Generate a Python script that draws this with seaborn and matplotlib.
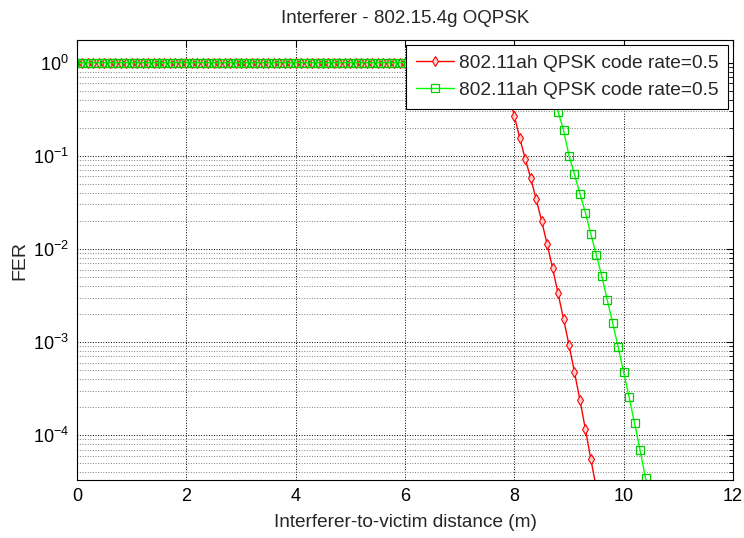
import numpy as np
import pandas as pd
import matplotlib
matplotlib.use("Agg")
import matplotlib.pyplot as plt
import seaborn as sns
from matplotlib.ticker import LogLocator, NullFormatter

# ---- data ----
title = "Interferer - 802.15.4g OQPSK"
xlabel = "Interferer-to-victim distance (m)"
ylabel = "FER"
label_red = "802.11ah QPSK code rate=0.5"
label_green = "802.11ah QPSK code rate=0.5"

# red series (diamonds): x = 0.0 ... 9.5 step 0.1
red_x = [round(0.1 * i, 1) for i in range(96)]
red_y = ([1.0] * 77 +
         [0.9, 0.7, 0.45,
          0.267, 0.154, 0.0923, 0.0573, 0.034, 0.020, 0.0112, 0.0062,
          0.00333, 0.00177, 9.3e-4, 4.76e-4, 2.38e-4, 1.16e-4, 5.5e-5, 2.7e-5])

# green series (squares): x = 0.0 ... 10.5 step 0.1
green_x = [round(0.1 * i, 1) for i in range(106)]
green_y = ([1.0] * 84 +
            [0.98, 0.92, 0.75, 0.5,
             0.298, 0.189, 0.100, 0.0632, 0.0389, 0.0245, 0.0144, 0.0086, 0.0051,
             0.00283, 0.00159, 8.8e-4, 4.72e-4, 2.55e-4, 1.34e-4, 6.9e-5, 3.46e-5, 1.8e-5])

xlim = (0, 12)
ylim = (3.3e-5, 1.75)
xticks = [0, 2, 4, 6, 8, 10, 12]

df = pd.concat([
    pd.DataFrame({"x": red_x, "y": red_y, "series": "red"}),
    pd.DataFrame({"x": green_x, "y": green_y, "series": "green"}),
], ignore_index=True)

sns.set_style("white")
plt.rcParams["font.family"] = ["Liberation Sans", "DejaVu Sans"]
plt.rcParams["mathtext.default"] = "regular"

fig = plt.figure(figsize=(7.44, 5.38), dpi=100)
ax = fig.add_axes([77 / 744, 1 - 480 / 538, (733 - 77) / 744, (480 - 40) / 538])

sns.lineplot(data=df[df.series == "red"], x="x", y="y", ax=ax, color="#ff0000",
             marker="d", markersize=5.5, markerfacecolor="#ffd0d0", markeredgecolor="#ff0000",
             markeredgewidth=0.8, linewidth=1.0, label=label_red, errorbar=None)
sns.lineplot(data=df[df.series == "green"], x="x", y="y", ax=ax, color="#00ff00",
             marker="s", markersize=6, markerfacecolor="none", markeredgecolor="#00cc00",
             markeredgewidth=0.9, linewidth=1.0, label=label_green, errorbar=None)

ax.set_yscale("log")
ax.set_xlim(*xlim)
ax.set_ylim(*ylim)
ax.set_xticks(xticks)
ax.yaxis.set_major_locator(LogLocator(base=10, numticks=20))
ax.yaxis.set_minor_locator(LogLocator(base=10, subs=np.arange(2, 10), numticks=20))
ax.yaxis.set_minor_formatter(NullFormatter())

ax.grid(True, which="major", linestyle=":", color="black", linewidth=0.7)
ax.grid(True, which="minor", axis="y", linestyle=":", color="#808080", linewidth=0.7)

for s in ax.spines.values():
    s.set_color("black")
    s.set_linewidth(0.8)

ax.tick_params(which="both", direction="in", top=True, right=True, labelsize=13,
               colors="black")
ax.tick_params(which="major", length=5)
ax.tick_params(which="minor", length=3)
ax.tick_params(axis="x", pad=6)
ax.tick_params(axis="y", pad=6)

ax.set_title(title, fontsize=13.5, pad=12)
ax.set_xlabel(xlabel, fontsize=13.7, labelpad=6)
ax.set_ylabel(ylabel, fontsize=14, labelpad=3)

leg = ax.legend(loc="upper right", fontsize=13.8, frameon=True, fancybox=False,
                edgecolor="black", framealpha=1, handlelength=2.0,
                borderaxespad=0.26, borderpad=0.5, labelspacing=0.5, handletextpad=0.25)
leg.get_frame().set_linewidth(0.8)

fig.savefig("out.png", dpi=100, facecolor="white")
